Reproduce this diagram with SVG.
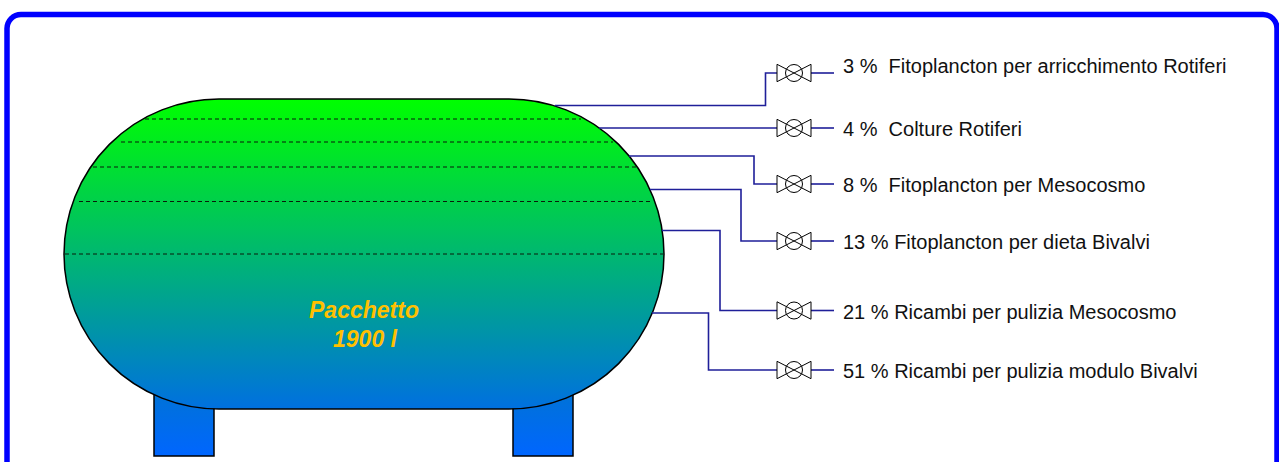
<svg xmlns="http://www.w3.org/2000/svg" width="1279" height="462" viewBox="0 0 1279 462">
  <style>
    .pipe { fill: none; stroke: #1f1f99; stroke-width: 1.6; }
    .valve { fill: #ffffff; stroke: #000000; stroke-width: 1; }
    .level { stroke: #0a1a0a; stroke-width: 1.1; stroke-dasharray: 4 3; }
    .label { font-family: "Liberation Sans", Arial, sans-serif; font-size: 20px; fill: #111111; white-space: pre; }
    .tank-label { font-family: "Liberation Sans", Arial, sans-serif; font-size: 23px; font-weight: bold; font-style: italic; fill: #FFC000; text-anchor: middle; }
  </style>
  <defs>
    <linearGradient id="tankFill" gradientUnits="userSpaceOnUse" x1="0" y1="99" x2="0" y2="409">
      <stop offset="0" stop-color="#00FF00"/>
      <stop offset="1" stop-color="#0070E0"/>
    </linearGradient>
    <linearGradient id="legFill" gradientUnits="userSpaceOnUse" x1="0" y1="395" x2="0" y2="456">
      <stop offset="0" stop-color="#0072D8"/>
      <stop offset="1" stop-color="#0066FF"/>
    </linearGradient>
    <!-- valve symbol: bow-tie with a circle, centred on the origin -->
    <g id="valve">
      <path class="valve" d="M-17,-8.7 L17,8.7 L17,-8.7 L-17,8.7 Z"/>
      <circle cx="0" cy="0" r="8.5" fill="none" stroke="#000" stroke-width="1"/>
    </g>
  </defs>

  <rect width="1279" height="462" fill="#ffffff"/>

  <!-- outer frame -->
  <rect x="7" y="14.5" width="1270" height="470" rx="14" ry="14" fill="none" stroke="#0000FF" stroke-width="5.5"/>

  <!-- tank with supports -->
  <g id="tank">
    <rect x="154" y="394" width="60" height="62" fill="url(#legFill)" stroke="#000" stroke-width="1.5"/>
    <rect x="513" y="394" width="60" height="62" fill="url(#legFill)" stroke="#000" stroke-width="1.5"/>
    <rect x="64" y="99" width="600" height="310" rx="155" ry="155" fill="url(#tankFill)" stroke="#000" stroke-width="1.5"/>
    <line class="level" x1="145" y1="119" x2="581" y2="119"/>
    <line class="level" x1="121" y1="142" x2="613" y2="142"/>
    <line class="level" x1="93" y1="167" x2="637" y2="167"/>
    <line class="level" x1="79" y1="201.5" x2="652" y2="201.5"/>
    <line class="level" x1="65" y1="254" x2="663" y2="254"/>
    <text class="tank-label" x="364" y="318">Pacchetto</text>
    <text class="tank-label" x="365" y="347">1900 l</text>
  </g>

  <!-- outlet pipes -->
  <g id="connectors">
    <polyline class="pipe" points="555,105.5 765.5,105.5 765.5,73 777,73"/>
    <polyline class="pipe" points="599,128 777,128"/>
    <polyline class="pipe" points="629,156 754,156 754,184 777,184"/>
    <polyline class="pipe" points="650,189.5 741,189.5 741,241 777,241"/>
    <polyline class="pipe" points="662,230.5 720,230.5 720,310.5 777,310.5"/>
    <polyline class="pipe" points="652,313 708.5,313 708.5,370 777,370"/>
    <line class="pipe" x1="811" y1="73" x2="834" y2="73"/>
    <line class="pipe" x1="811" y1="128" x2="834" y2="128"/>
    <line class="pipe" x1="811" y1="184" x2="834" y2="184"/>
    <line class="pipe" x1="811" y1="241" x2="834" y2="241"/>
    <line class="pipe" x1="811" y1="310.5" x2="834" y2="310.5"/>
    <line class="pipe" x1="811" y1="370" x2="834" y2="370"/>
  </g>

  <g id="out1">
    <use href="#valve" x="794" y="73"/>
    <text class="label" x="843" y="72.5">3 %  Fitoplancton per arricchimento Rotiferi</text>
  </g>
  <g id="out2">
    <use href="#valve" x="794" y="128"/>
    <text class="label" x="843" y="136.3">4 %  Colture Rotiferi</text>
  </g>
  <g id="out3">
    <use href="#valve" x="794" y="184"/>
    <text class="label" x="843" y="192.3">8 %  Fitoplancton per Mesocosmo</text>
  </g>
  <g id="out4">
    <use href="#valve" x="794" y="241"/>
    <text class="label" x="843" y="249.3">13 % Fitoplancton per dieta Bivalvi</text>
  </g>
  <g id="out5">
    <use href="#valve" x="794" y="310.5"/>
    <text class="label" x="843" y="318.5">21 % Ricambi per pulizia Mesocosmo</text>
  </g>
  <g id="out6">
    <use href="#valve" x="794" y="370"/>
    <text class="label" x="843" y="378.3">51 % Ricambi per pulizia modulo Bivalvi</text>
  </g>
</svg>
